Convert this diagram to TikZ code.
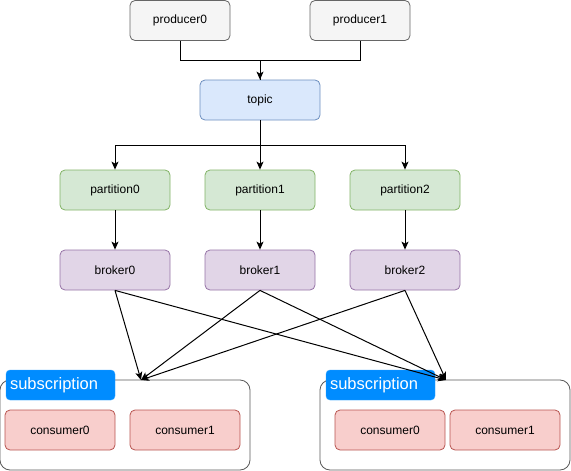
\documentclass[tikz,border=0pt]{standalone}
\usepackage{fontspec}
\setmainfont{Liberation Sans}
\usetikzlibrary{arrows,arrows.meta,positioning}

\definecolor{prodfill}{HTML}{F5F5F5}
\definecolor{prodline}{HTML}{666666}
\definecolor{topicfill}{HTML}{DAE8FC}
\definecolor{topicline}{HTML}{6C8EBF}
\definecolor{partfill}{HTML}{D5E8D4}
\definecolor{partline}{HTML}{82B366}
\definecolor{brokfill}{HTML}{E1D5E7}
\definecolor{brokline}{HTML}{9673A6}
\definecolor{consfill}{HTML}{F8CECC}
\definecolor{consline}{HTML}{B85450}
\definecolor{subfill}{HTML}{008CFF}

\tikzset{
  box/.style={draw,rounded corners=5pt,line width=0.8pt,minimum height=40pt,
    minimum width=110pt,inner sep=0pt,font=\fontsize{12}{14}\selectfont},
  prod/.style={box,fill=prodfill,draw=prodline,minimum width=100pt},
  topicbox/.style={box,fill=topicfill,draw=topicline,minimum width=120pt},
  part/.style={box,fill=partfill,draw=partline},
  brok/.style={box,fill=brokfill,draw=brokline},
  cons/.style={box,fill=consfill,draw=consline},
  group/.style={draw=black!65,rounded corners=10pt,line width=0.8pt,
    minimum width=250pt,minimum height=90pt,inner sep=0pt},
  sublabel/.style={fill=subfill,draw=subfill!80!white,rounded corners=4pt,text=white,
    minimum width=109pt,minimum height=30pt,inner sep=0pt,text width=101pt,
    align=left,font=\fontsize{16.5}{18}\selectfont},
  link/.style={-{Stealth[length=8pt,width=7pt,inset=2pt]},line width=1pt}
}

\begin{document}
\begin{tikzpicture}[x=1pt,y=-1pt]
\useasboundingbox (0,0) rectangle (571,471);

% producers and topic
\node[prod] (p0) at (180,20.5) {producer0};
\node[prod] (p1) at (360,20.5) {producer1};
\node[topicbox] (topic) at (260,100) {topic};

% partitions and brokers
\node[part] (part0) at (115,190) {partition0};
\node[part] (part1) at (260,190) {partition1};
\node[part] (part2) at (405,190) {partition2};
\node[brok] (b0) at (115,270) {broker0};
\node[brok] (b1) at (260,270) {broker1};
\node[brok] (b2) at (405,270) {broker2};

% subscriptions
\node[group] (sub0) at (125,425) {};
\node[group] (sub1) at (445,425) {};
\node[sublabel] (lab0) at (60.5,385) {subscription};
\node[sublabel] (lab1) at (380.5,385) {subscription};
\node[cons] (c00) at (60,430) {consumer0};
\node[cons] (c01) at (185,430) {consumer1};
\node[cons] (c10) at (390,430) {consumer0};
\node[cons] (c11) at (505,430) {consumer1};
\coordinate (in0) at (141,380);
\coordinate (in1) at (446,380);

\draw[line width=1pt] (p0.south) -- ++(0,20) -| (topic.north);
\draw[link] (p1.south) -- ++(0,20) -| (topic.north);
\draw[link] (topic.south) -- ++(0,25) -| (part0.north);
\draw[link] (topic.south) -- (part1.north);
\draw[link] (topic.south) -- ++(0,25) -| (part2.north);
\foreach \i in {0,1,2} {
  \draw[link] (part\i) -- (b\i);
  \draw[link] (b\i.south) -- (in0);
  \draw[link] (b\i.south) -- (in1);
}
\end{tikzpicture}
\end{document}
